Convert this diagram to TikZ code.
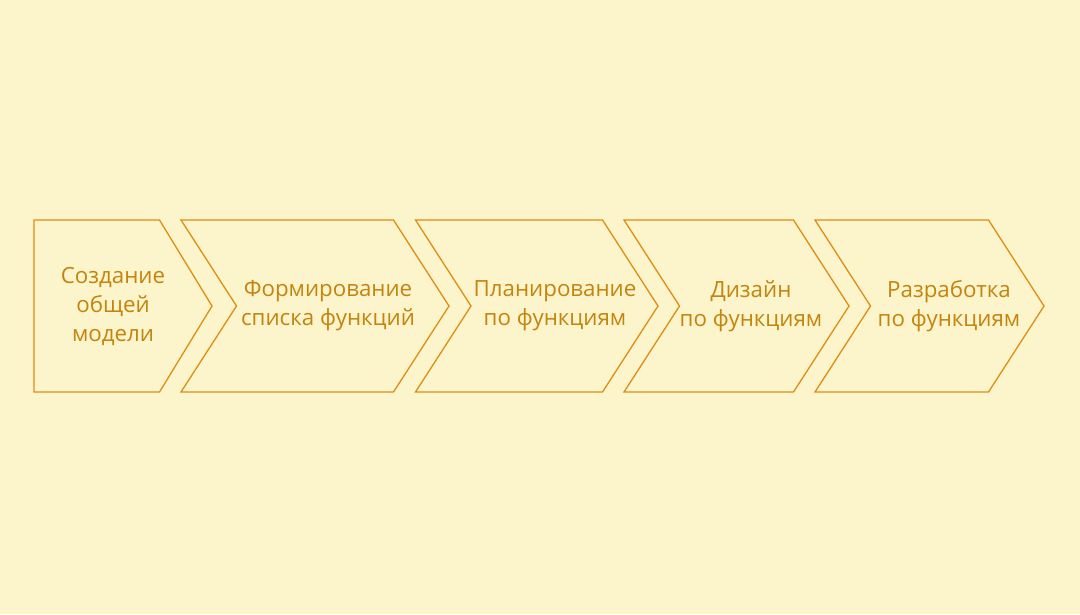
\documentclass[tikz,border=0pt]{standalone}
\usepackage{fontspec}
\setmainfont{Open Sans}
\definecolor{bgc}{HTML}{FCF4CA}
\definecolor{linec}{HTML}{DE8E12}
\definecolor{textc}{HTML}{C4840E}
\tikzset{
  chev/.style={draw=linec, line width=1.3pt, line join=miter},
  lbl/.style={text=textc, align=center, font=\fontsize{22.3}{29}\selectfont, inner sep=0pt}
}
\begin{document}
\begin{tikzpicture}[x=1pt,y=-1pt]
\fill[bgc] (0,0) rectangle (1080,614);
\useasboundingbox (0,0) rectangle (1080,614);
% shapes
\draw[chev] (34,220) -- (159.5,220) -- (212,306) -- (159.5,392) -- (34,392) -- cycle;
\draw[chev] (181,220) -- (393.5,220) -- (449,306) -- (393.5,392) -- (181,392) -- (236.5,306) -- cycle;
\draw[chev] (415.5,220) -- (602.5,220) -- (658,306) -- (602.5,392) -- (415.5,392) -- (471,306) -- cycle;
\draw[chev] (624,220) -- (793.5,220) -- (849,306) -- (793.5,392) -- (624,392) -- (679.5,306) -- cycle;
\draw[chev] (815,220) -- (988.5,220) -- (1044,306) -- (988.5,392) -- (815,392) -- (870.5,306) -- cycle;
% labels
\node[lbl] (t1) at (113,306) {Создание\\общей\\модели};
\node[lbl] (t2) at (328,306) {Формирование\\списка функций};
\node[lbl] (t3) at (555,306) {Планирование\\по функциям};
\node[lbl] (t4) at (751,306) {Дизайн\\по функциям};
\node[lbl] (t5) at (949,306) {Разработка\\по функциям};
\end{tikzpicture}
\end{document}
